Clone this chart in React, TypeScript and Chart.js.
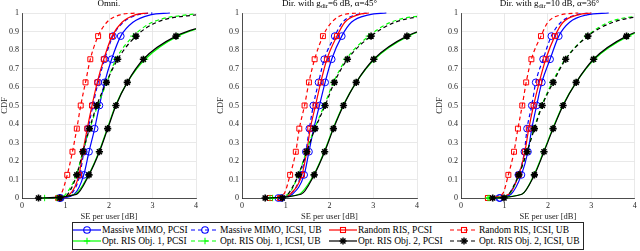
import React, { useEffect, useRef } from "react";
import { Chart, registerables } from "chart.js";

Chart.register(...registerables);

// CDF levels at which the SE values are given (markers on multiples of 1/8)
const CDF_LEVELS = [0, 0.02, 0.125, 0.25, 0.375, 0.5, 0.625, 0.75, 0.875, 0.95, 0.99, 1];
const MARKER_LEVELS = [0, 0.125, 0.25, 0.375, 0.5, 0.625, 0.75, 0.875];
const X_TICKS = [0, 1, 2, 3, 4];
const Y_TICKS = [0, 0.1, 0.2, 0.3, 0.4, 0.5, 0.6, 0.7, 0.8, 0.9, 1];

const SERIES_NAMES = [
  "Massive MIMO, PCSI",
  "Massive MIMO, ICSI, UB",
  "Random RIS, PCSI",
  "Random RIS, ICSI, UB",
  "Opt. RIS Obj. 1, PCSI",
  "Opt. RIS Obj. 1, ICSI, UB",
  "Opt. RIS Obj. 2, PCSI",
  "Opt. RIS Obj. 2, ICSI, UB",
];

const PANEL_TITLES = ["Omni.", "Dir. with g_dir=6 dB, α=45°", "Dir. with g_dir=10 dB, α=36°"];

// Panel 1: Omni.
const omniMimoPcsi = [0.89, 1.2, 1.42, 1.54, 1.67, 1.78, 1.9, 2.06, 2.27, 2.55, 2.95, 3.4];
const omniMimoIcsi = [0.86, 1.12, 1.33, 1.42, 1.52, 1.63, 1.75, 1.9, 2.09, 2.33, 2.65, 3.0];
const omniRandPcsi = [0.85, 1.1, 1.31, 1.4, 1.5, 1.61, 1.73, 1.88, 2.07, 2.3, 2.6, 2.9];
const omniRandIcsi = [0.83, 0.9, 1.04, 1.16, 1.26, 1.35, 1.46, 1.57, 1.75, 1.95, 2.25, 2.6];
const omniObj1Pcsi = [0.52, 1.22, 1.53, 1.77, 1.96, 2.15, 2.42, 2.83, 3.58, 4.6, 5.6, 6.2];
const omniObj1Icsi = [0.8, 1.0, 1.25, 1.4, 1.56, 1.74, 1.95, 2.16, 2.56, 3.0, 3.8, 4.5];
const omniObj2Pcsi = [0.38, 1.25, 1.54, 1.78, 1.97, 2.16, 2.42, 2.79, 3.54, 4.6, 5.6, 6.2];
const omniObj2Icsi = [0.87, 1.05, 1.26, 1.4, 1.55, 1.72, 1.94, 2.2, 2.62, 3.1, 4.0, 4.6];

// Panel 2: Dir. g_dir = 6 dB, alpha = 45
const dir6MimoPcsi = [0.9, 1.15, 1.42, 1.53, 1.64, 1.77, 1.9, 2.05, 2.28, 2.5, 2.9, 3.3];
const dir6MimoIcsi = [0.83, 1.1, 1.35, 1.46, 1.54, 1.63, 1.75, 1.88, 2.12, 2.3, 2.6, 2.9];
const dir6RandPcsi = [0.87, 1.1, 1.37, 1.48, 1.56, 1.68, 1.8, 1.94, 2.17, 2.35, 2.65, 2.9];
const dir6RandIcsi = [0.64, 0.95, 1.1, 1.23, 1.31, 1.43, 1.53, 1.66, 1.85, 2.05, 2.3, 2.7];
const dir6Obj1Pcsi = [0.64, 1.3, 1.64, 1.88, 2.08, 2.31, 2.61, 3.03, 3.8, 4.8, 5.8, 6.4];
const dir6Obj1Icsi = [0.7, 1.05, 1.29, 1.47, 1.66, 1.88, 2.09, 2.38, 2.9, 3.4, 4.3, 5.0];
const dir6Obj2Pcsi = [0.53, 1.35, 1.65, 1.89, 2.09, 2.32, 2.61, 3.01, 3.77, 4.8, 5.8, 6.4];
const dir6Obj2Icsi = [0.92, 1.05, 1.29, 1.48, 1.67, 1.9, 2.11, 2.41, 2.95, 3.5, 4.5, 5.2];

// Panel 3: Dir. g_dir = 10 dB, alpha = 36
const dir10MimoPcsi = [0.9, 1.15, 1.39, 1.54, 1.63, 1.74, 1.86, 2.05, 2.25, 2.5, 2.9, 3.4];
const dir10MimoIcsi = [0.88, 1.1, 1.32, 1.46, 1.52, 1.63, 1.72, 1.89, 2.08, 2.3, 2.65, 3.0];
const dir10RandPcsi = [0.62, 1.1, 1.33, 1.47, 1.56, 1.67, 1.8, 1.95, 2.16, 2.35, 2.7, 3.0];
const dir10RandIcsi = [0.62, 0.95, 1.09, 1.22, 1.31, 1.41, 1.5, 1.62, 1.84, 2.0, 2.3, 2.7];
const dir10Obj1Pcsi = [0.62, 1.4, 1.68, 1.9, 2.11, 2.34, 2.65, 3.07, 3.85, 4.8, 5.8, 6.4];
const dir10Obj1Icsi = [0.65, 1.1, 1.33, 1.52, 1.68, 1.86, 2.1, 2.4, 2.9, 3.4, 4.4, 5.0];
const dir10Obj2Pcsi = [0.73, 1.4, 1.69, 1.91, 2.12, 2.35, 2.65, 3.05, 3.81, 4.8, 5.8, 6.4];
const dir10Obj2Icsi = [0.99, 1.1, 1.33, 1.52, 1.69, 1.87, 2.12, 2.41, 2.92, 3.5, 4.5, 5.2];

const PANEL_SERIES = [
  [omniMimoPcsi, omniMimoIcsi, omniRandPcsi, omniRandIcsi, omniObj1Pcsi, omniObj1Icsi, omniObj2Pcsi, omniObj2Icsi],
  [dir6MimoPcsi, dir6MimoIcsi, dir6RandPcsi, dir6RandIcsi, dir6Obj1Pcsi, dir6Obj1Icsi, dir6Obj2Pcsi, dir6Obj2Icsi],
  [dir10MimoPcsi, dir10MimoIcsi, dir10RandPcsi, dir10RandIcsi, dir10Obj1Pcsi, dir10Obj1Icsi, dir10Obj2Pcsi, dir10Obj2Icsi],
];

// Styles
const STYLES = [
  { color: "#0000ff", dash: false, marker: "circle", r: 3.4 },
  { color: "#0000ff", dash: true, marker: "circle", r: 3.4 },
  { color: "#ff0000", dash: false, marker: "rect", r: 3.5 },
  { color: "#ff0000", dash: true, marker: "rect", r: 3.5 },
  { color: "#00ff00", dash: false, marker: "cross", r: 3.2 },
  { color: "#00ff00", dash: true, marker: "cross", r: 3.2 },
  { color: "#000000", dash: false, marker: "star", r: 3.6 },
  { color: "#000000", dash: true, marker: "star", r: 3.6 },
];

const FONT = "'Liberation Serif', 'Times New Roman', 'DejaVu Serif', serif";
const CANVAS_H = 224;
const PANELS = [
  { left: 0, width: 204, axisW: 22, padRight: 8 },
  { left: 216, width: 209, axisW: 26, padRight: 8 },
  { left: 435, width: 205, axisW: 26, padRight: 2 },
];

function CdfPanel({ idx }: { idx: number }) {
  const ref = useRef<HTMLCanvasElement | null>(null);
  const p = PANELS[idx];
  useEffect(() => {
    if (!ref.current) return;
    const series = PANEL_SERIES[idx];
    const datasets = series.map((xs, i) => {
      const st = STYLES[i];
      return {
        label: SERIES_NAMES[i],
        data: xs.map((x, k) => ({ x, y: CDF_LEVELS[k] })),
        borderColor: st.color,
        backgroundColor: "transparent",
        borderWidth: 1.2,
        borderDash: st.dash ? [4, 3] : [],
        cubicInterpolationMode: "monotone" as const,
        pointStyle: st.marker,
        pointRadius: CDF_LEVELS.map((l) => (MARKER_LEVELS.includes(l) ? st.r : 0)),
        pointBorderColor: st.color,
        pointBackgroundColor: "transparent",
        pointBorderWidth: st.marker === "star" ? 1.6 : 1,
        pointHoverRadius: 0,
        order: -i,
        clip: { left: 6, top: 2, right: 0, bottom: 6 },
      };
    });
    const chart = new Chart(ref.current, {
      type: "line",
      data: { datasets: datasets as any },
      options: {
        animation: false,
        responsive: false,
        events: [],
        layout: { padding: { left: 0, top: 13, right: p.padRight, bottom: 0 } },
        plugins: { legend: { display: false }, tooltip: { enabled: false }, title: { display: false } },
        scales: {
          x: {
            type: "linear",
            min: 0,
            max: 4,
            afterBuildTicks: (scale: any) => {
              scale.ticks = X_TICKS.map((v) => ({ value: v }));
            },
            afterFit: (scale: any) => {
              scale.height = CANVAS_H - 198;
            },
            ticks: {
              font: { family: FONT, size: 8 },
              color: "#262626",
              padding: 3,
              maxRotation: 0,
              callback: (v: any) => String(v),
            },
            grid: { color: "#e3e3e3", drawTicks: false, lineWidth: 0.8 },
            border: { color: "#262626", width: 0.8 },
            title: {
              display: true,
              text: "SE per user [dB]",
              font: { family: FONT, size: 8.5 },
              color: "#262626",
              padding: { top: 0, bottom: 2 },
            },
          },
          y: {
            type: "linear",
            min: 0,
            max: 1,
            afterBuildTicks: (scale: any) => {
              scale.ticks = Y_TICKS.map((v) => ({ value: v }));
            },
            afterFit: (scale: any) => {
              scale.width = p.axisW;
            },
            ticks: {
              font: { family: FONT, size: 8 },
              color: "#262626",
              padding: 3,
              callback: (v: any) => String(Math.round(Number(v) * 10) / 10),
            },
            grid: { color: "#e3e3e3", drawTicks: false, lineWidth: 0.8 },
            border: { color: "#262626", width: 0.8 },
            title: {
              display: true,
              text: "CDF",
              font: { family: FONT, size: 8.5 },
              color: "#262626",
              padding: { top: 0, bottom: 0 },
            },
          },
        },
      },
    });
    return () => chart.destroy();
  }, [idx]);
  return (
    <canvas
      ref={ref}
      width={p.width}
      height={CANVAS_H}
      style={{ position: "absolute", left: p.left, top: 0, width: p.width, height: CANVAS_H }}
    />
  );
}

function PanelTitle({ idx }: { idx: number }) {
  const p = PANELS[idx];
  const cx = p.left + p.axisW + (p.width - p.axisW - p.padRight) / 2;
  const t = PANEL_TITLES[idx];
  const parts = t.split("_dir");
  return (
    <div
      style={{
        position: "absolute",
        left: cx - 100,
        width: 200,
        top: -1,
        textAlign: "center",
        fontFamily: FONT,
        fontSize: 9,
        lineHeight: "9px",
        color: "#000",
        whiteSpace: "nowrap",
      }}
    >
      {parts.length > 1 ? (
        <>
          {parts[0]}
          <sub style={{ fontSize: 6.5, verticalAlign: "-2px", lineHeight: "6px" }}>dir</sub>
          {parts[1]}
        </>
      ) : (
        t
      )}
    </div>
  );
}

function LegendSample({ i }: { i: number }) {
  const st = STYLES[i];
  const w = 28;
  const cy = 5;
  const cx = w / 2;
  let marker: React.ReactNode = null;
  if (st.marker === "circle") marker = <circle cx={cx} cy={cy} r={3.3} fill="none" stroke={st.color} strokeWidth={1.1} />;
  else if (st.marker === "rect")
    marker = <rect x={cx - 2.5} y={cy - 2.5} width={5} height={5} fill="none" stroke={st.color} strokeWidth={1.1} />;
  else if (st.marker === "cross")
    marker = (
      <g stroke={st.color} strokeWidth={1.1}>
        <line x1={cx - 3.2} y1={cy} x2={cx + 3.2} y2={cy} />
        <line x1={cx} y1={cy - 3.2} x2={cx} y2={cy + 3.2} />
      </g>
    );
  else
    marker = (
      <g stroke={st.color} strokeWidth={1.5}>
        <line x1={cx - 3.5} y1={cy} x2={cx + 3.5} y2={cy} />
        <line x1={cx} y1={cy - 3.5} x2={cx} y2={cy + 3.5} />
        <line x1={cx - 2.5} y1={cy - 2.5} x2={cx + 2.5} y2={cy + 2.5} />
        <line x1={cx - 2.5} y1={cy + 2.5} x2={cx + 2.5} y2={cy - 2.5} />
      </g>
    );
  return (
    <svg width={w} height={10} style={{ position: "absolute", left: 0, top: 0 }}>
      <line x1={0} y1={cy} x2={w} y2={cy} stroke={st.color} strokeWidth={1.2} strokeDasharray={st.dash ? "4 3" : undefined} />
      {marker}
    </svg>
  );
}

const LEGEND_COLS = [73, 191, 329, 450];
const LEGEND_ROWS = [225, 236];
const LEGEND_ORDER = [0, 1, 2, 3, 4, 5, 6, 7];

function Legend() {
  return (
    <>
      <div
        style={{
          position: "absolute",
          left: 71.5,
          top: 221.5,
          width: 512,
          height: 28,
          border: "0.8px solid #262626",
          background: "#fff",
          boxSizing: "border-box",
        }}
      />
      {LEGEND_ORDER.map((i) => {
        const col = i % 4;
        const row = Math.floor(i / 4);
        return (
          <div key={i} style={{ position: "absolute", left: LEGEND_COLS[col], top: LEGEND_ROWS[row], height: 10 }}>
            <LegendSample i={i} />
            <span
              style={{
                position: "absolute",
                left: 29,
                top: -1,
                fontFamily: FONT,
                fontSize: 9.5,
                lineHeight: "12px",
                whiteSpace: "nowrap",
                color: "#000",
              }}
            >
              {SERIES_NAMES[i]}
            </span>
          </div>
        );
      })}
    </>
  );
}

export default function App() {
  return (
    <div style={{ position: "absolute", left: 0, top: 0, width: 640, height: 251, background: "#fff", overflow: "hidden" }}>
      {PANELS.map((_, i) => (
        <CdfPanel key={"c" + i} idx={i} />
      ))}
      {PANELS.map((_, i) => (
        <PanelTitle key={"t" + i} idx={i} />
      ))}
      <Legend />
    </div>
  );
}
